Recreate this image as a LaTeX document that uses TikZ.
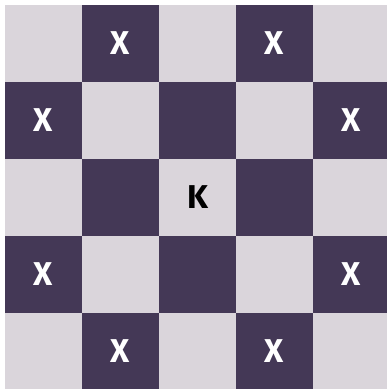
\documentclass[tikz,border=0pt]{standalone}
\usepackage{fontspec}
\newfontfamily\piecefont{Fira Sans}
\definecolor{boardlight}{HTML}{DAD5DB}
\definecolor{boarddark}{HTML}{443856}
\tikzset{
  square/.style={minimum size=77pt, inner sep=0pt, outer sep=0pt},
  piece/.style={font=\piecefont\bfseries\fontsize{33}{33}\selectfont, inner sep=0pt}
}
\begin{document}
\begin{tikzpicture}[x=1pt, y=-1pt]
        % Rozmiar obrazu
        \useasboundingbox (0,0) rectangle (387,389);
        
        % Pola szachownicy
        \foreach \r in {0,...,4}
          \foreach \c in {0,...,4} {
            \pgfmathtruncatemacro\parity{mod(\r+\c,2)}
            \ifnum\parity=0 \def\sqcol{boardlight}\else\def\sqcol{boarddark}\fi
            \node[square, fill=\sqcol] (sq-\r-\c) at ({43.5+77*\c},{43.5+77*\r}) {};
          }
        
        % Król w środku
        \node[piece, text=black] (king) at (sq-2-2) {K};
        
        % Pola atakowane przez skoczka
        \node[piece, text=white] (x1) at (sq-0-1) {X};
        \node[piece, text=white] (x2) at (sq-0-3) {X};
        \node[piece, text=white] (x3) at (sq-1-0) {X};
        \node[piece, text=white] (x4) at (sq-1-4) {X};
        \node[piece, text=white] (x5) at (sq-3-0) {X};
        \node[piece, text=white] (x6) at (sq-3-4) {X};
        \node[piece, text=white] (x7) at (sq-4-1) {X};
        \node[piece, text=white] (x8) at (sq-4-3) {X};
    \end{tikzpicture}
\end{document}
